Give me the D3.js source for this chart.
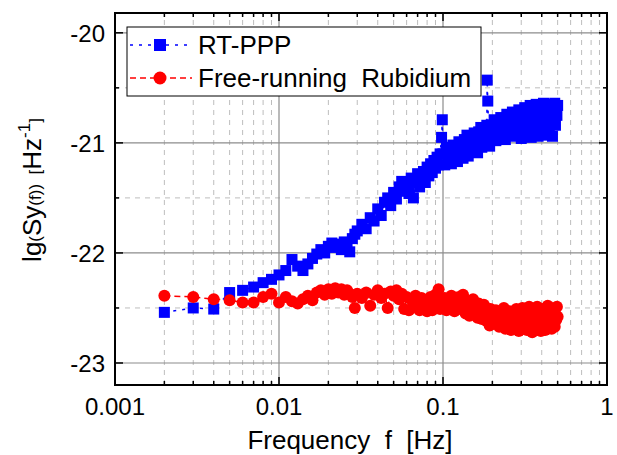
<!DOCTYPE html>
<html>
<head>
<meta charset="utf-8">
<script src="https://cdn.jsdelivr.net/npm/d3@7"></script>
<style>
  body { margin: 0; background: #fff; }
  text { font-family: "Liberation Sans", Arial, sans-serif; fill: #000; }
</style>
</head>
<body>
<div id="chart"></div>
<script>
var W = 617, H = 455;
var margins = { top: 13, right: 10, bottom: 70, left: 115 };

// frequency grid shared by both series [Hz]
var freq = [
  0.002,0.003,0.004,0.005,0.006,0.007,0.008,0.009,0.010,0.011,0.012,0.013,0.014,0.015,0.016,0.017,0.018,0.019,0.020,
  0.021,0.022,0.023,0.024,0.025,0.026,0.027,0.028,0.029,
  0.030,0.032,0.034,0.036,0.038,0.040,0.042,0.044,0.046,0.048,0.050,0.052,0.054,0.056,0.058,0.060,0.062,0.064,0.066,
  0.068,0.070,0.072,0.074,0.076,0.078,0.080,0.082,0.084,0.086,0.088,0.090,0.092,0.094,0.096,0.098,
  0.099,
  0.1000,0.1025,0.1050,0.1075,0.1100,0.1125,0.1150,0.1175,0.1200,0.1225,0.1250,0.1275,0.1300,0.1325,0.1350,0.1375,
  0.1400,0.1425,0.1450,0.1475,0.1500,0.1525,0.1550,0.1575,0.1600,0.1625,0.1650,0.1675,0.1700,0.1725,0.1750,0.1775,
  0.1800,0.1825,0.1850,
  0.186,
  0.1875,0.1900,0.1925,0.1950,0.1975,0.2000,
  0.205,0.210,0.215,0.220,0.225,0.230,0.235,0.240,0.245,0.250,0.255,0.260,0.265,0.270,0.275,0.280,0.285,0.290,0.295,0.300,
  0.305,0.310,0.315,0.320,0.325,0.330,0.335,0.340,0.345,0.350,0.355,0.360,0.365,0.370,0.375,0.380,0.385,0.390,0.395,0.400,
  0.405,0.410,0.415,0.420,0.425,0.430,0.435,0.440,0.445,0.450,0.455,0.460,0.465,0.470,0.475,0.480,0.485,0.490,0.495,0.500];

// RT-PPP, lg(Sy(f))
var lgSyRT = [
  -22.54,-22.50,-22.51,-22.36,-22.34,-22.31,-22.27,-22.24,-22.20,-22.16,-22.06,-22.12,-22.16,-22.10,-22.05,-22.01,-21.97,-22.00,-21.94,
  -21.91,-21.95,-21.92,-21.97,-21.90,-21.96,-21.99,-21.87,-21.83,
  -21.80,-21.74,-21.78,-21.68,-21.71,-21.60,-21.66,-21.54,-21.50,-21.57,-21.45,-21.51,-21.40,-21.35,-21.44,-21.38,-21.46,-21.32,-21.50,
  -21.36,-21.28,-21.40,-21.31,-21.26,-21.36,-21.22,-21.30,-21.19,-21.27,-21.16,-21.23,-21.13,-21.20,-21.10,-20.95,
  -20.79,
  -21.10,-21.20,-21.04,-21.15,-21.08,-21.19,-21.02,-21.12,-21.06,-21.17,-20.99,-21.10,-21.04,-21.14,-20.97,-21.08,
  -20.93,-21.12,-21.01,-20.95,-21.08,-20.98,-20.91,-21.05,-20.97,-21.09,-20.90,-21.00,-20.86,-21.04,-20.94,-20.88,
  -21.02,-20.95,-20.84,
  -20.43,
  -20.62,-20.90,-21.03,-20.84,-20.96,-20.88,
  -20.79,-20.98,-20.86,-20.93,-20.77,-20.90,-20.83,-20.97,-20.74,-20.87,-20.80,-20.94,-20.72,-20.84,-20.90,-20.76,-20.86,-20.70,-20.82,-20.96,
  -20.74,-20.85,-20.68,-20.79,-20.89,-20.72,-20.83,-20.66,-20.95,-20.77,-20.70,-20.86,-20.74,-20.65,-20.82,-20.94,-20.71,-20.80,-20.67,-20.86,
  -20.75,-20.64,-20.83,-20.72,-20.93,-20.68,-20.79,-20.65,-20.85,-20.73,-20.66,-20.81,-20.94,-20.70,-20.77,-20.64,-20.84,-20.68,-20.75,-20.66];

// Free-running Rubidium, lg(Sy(f))
var lgSyRb = [
  -22.39,-22.40,-22.42,-22.43,-22.45,-22.45,-22.40,-22.37,-22.45,-22.40,-22.44,-22.46,-22.42,-22.39,-22.43,-22.36,-22.34,-22.38,-22.33,
  -22.37,-22.32,-22.36,-22.33,-22.38,-22.34,-22.37,-22.40,-22.50,
  -22.37,-22.41,-22.36,-22.48,-22.38,-22.34,-22.41,-22.37,-22.50,-22.35,-22.39,-22.34,-22.42,-22.37,-22.51,-22.40,-22.52,-22.42,-22.46,
  -22.39,-22.44,-22.52,-22.41,-22.46,-22.43,-22.53,-22.44,-22.40,-22.52,-22.42,-22.38,-22.45,-22.33,-22.51,-22.44,
  -22.46,
  -22.47,-22.41,-22.52,-22.44,-22.49,-22.39,-22.46,-22.53,-22.42,-22.48,-22.40,-22.51,-22.45,-22.38,-22.49,-22.55,
  -22.44,-22.50,-22.57,-22.46,-22.53,-22.42,-22.56,-22.48,-22.52,-22.59,-22.46,-22.54,-22.49,-22.60,-22.52,-22.47,
  -22.57,-22.50,-22.62,
  -22.55,
  -22.53,-22.58,-22.66,-22.51,-22.60,-22.55,
  -22.63,-22.52,-22.58,-22.67,-22.55,-22.61,-22.50,-22.69,-22.57,-22.64,-22.53,-22.70,-22.60,-22.55,-22.66,-22.51,-22.62,-22.71,-22.57,-22.65,
  -22.50,-22.68,-22.59,-22.54,-22.70,-22.62,-22.49,-22.66,-22.57,-22.72,-22.61,-22.53,-22.67,-22.58,-22.49,-22.69,-22.62,-22.55,-22.71,-22.59,
  -22.51,-22.66,-22.60,-22.70,-22.54,-22.63,-22.48,-22.68,-22.57,-22.62,-22.50,-22.69,-22.58,-22.64,-22.52,-22.67,-22.56,-22.61,-22.49,-22.58];

var xMajor = [0.001, 0.01, 0.1, 1];
var xTickLabels = ["0.001", "0.01", "0.1", "1"];
var yMajor = [-23, -22, -21, -20];
var yMinor = [-22.5, -21.5, -20.5];
var legendLabels = ["RT-PPP", "Free-running  Rubidium"];

var BLUE = "#0000ff", RED = "#ff0000";

var x = d3.scaleLog().domain([0.001, 1]).range([margins.left, W - margins.right]);
var y = d3.scaleLinear().domain([-23.2, -19.82]).range([H - margins.bottom, margins.top]);

var xMinor = [];
[0.001, 0.01, 0.1].forEach(function(d) { for (var k = 2; k <= 9; k++) xMinor.push(d * k); });

var svg = d3.select("#chart").append("svg").attr("width", W).attr("height", H);

var x0 = x.range()[0], x1 = x.range()[1], y0 = y.range()[0], y1 = y.range()[1];

// grid
var grid = svg.append("g");
grid.selectAll(".gx-minor").data(xMinor).join("line")
  .attr("x1", d => x(d)).attr("x2", d => x(d)).attr("y1", y0).attr("y2", y1)
  .attr("stroke", "#bdbdbd").attr("stroke-width", 1).attr("stroke-dasharray", "5,5");
grid.selectAll(".gy-minor").data(yMinor).join("line")
  .attr("x1", x0).attr("x2", x1).attr("y1", d => y(d)).attr("y2", d => y(d))
  .attr("stroke", "#bdbdbd").attr("stroke-width", 1).attr("stroke-dasharray", "5,5");
grid.selectAll(".gx-major").data([0.01, 0.1]).join("line")
  .attr("x1", d => x(d)).attr("x2", d => x(d)).attr("y1", y0).attr("y2", y1)
  .attr("stroke", "#8c8c8c").attr("stroke-width", 1.2);
grid.selectAll(".gy-major").data(yMajor).join("line")
  .attr("x1", x0).attr("x2", x1).attr("y1", d => y(d)).attr("y2", d => y(d))
  .attr("stroke", "#8c8c8c").attr("stroke-width", 1.2);

// series
var rt = freq.map((f, i) => [f, lgSyRT[i]]);
var rb = freq.map((f, i) => [f, lgSyRb[i]]);
var line = d3.line().x(d => x(d[0])).y(d => y(d[1]));

svg.append("path").datum(rt).attr("d", line)
  .attr("fill", "none").attr("stroke", BLUE).attr("stroke-width", 1.5).attr("stroke-dasharray", "3,6");
svg.selectAll(".sq").data(rt).join("rect")
  .attr("x", d => x(d[0]) - 5.5).attr("y", d => y(d[1]) - 5.5)
  .attr("width", 11).attr("height", 11).attr("fill", BLUE);

svg.append("path").datum(rb).attr("d", line)
  .attr("fill", "none").attr("stroke", RED).attr("stroke-width", 1.5).attr("stroke-dasharray", "6,4");
svg.selectAll(".ci").data(rb).join("circle")
  .attr("cx", d => x(d[0])).attr("cy", d => y(d[1])).attr("r", 6).attr("fill", RED);

// frame
svg.append("rect").attr("x", x0).attr("y", y1).attr("width", x1 - x0).attr("height", y0 - y1)
  .attr("fill", "none").attr("stroke", "#000").attr("stroke-width", 2);

// ticks, inward on all sides
var ticks = svg.append("g").attr("stroke", "#000").attr("stroke-width", 1.5);
function xTicks(data, len) {
  ticks.selectAll(null).data(data).join("line")
    .attr("x1", d => x(d)).attr("x2", d => x(d)).attr("y1", y0).attr("y2", y0 - len);
  ticks.selectAll(null).data(data).join("line")
    .attr("x1", d => x(d)).attr("x2", d => x(d)).attr("y1", y1).attr("y2", y1 + len);
}
function yTicks(data, len) {
  ticks.selectAll(null).data(data).join("line")
    .attr("x1", x0).attr("x2", x0 + len).attr("y1", d => y(d)).attr("y2", d => y(d));
  ticks.selectAll(null).data(data).join("line")
    .attr("x1", x1).attr("x2", x1 - len).attr("y1", d => y(d)).attr("y2", d => y(d));
}
xTicks(xMajor, 8); xTicks(xMinor, 4);
yTicks(yMajor, 8); yTicks(yMinor, 4);

// tick labels
svg.selectAll(".xl").data(xMajor).join("text")
  .attr("x", d => x(d)).attr("y", y0 + 30).attr("text-anchor", "middle")
  .style("font-size", "24px").text((d, i) => xTickLabels[i]);
svg.selectAll(".yl").data(yMajor).join("text")
  .attr("x", x0 - 10).attr("y", d => y(d) + 9).attr("text-anchor", "end")
  .style("font-size", "24px").text(d => d);

// axis titles
svg.append("text").attr("x", (x0 + x1) / 2 - 11).attr("y", 449).attr("text-anchor", "middle")
  .style("font-size", "26px").attr("xml:space", "preserve").text("Frequency  f  [Hz]");

var yt = svg.append("text").attr("transform", "translate(41,190) rotate(-90)")
  .attr("text-anchor", "middle").attr("xml:space", "preserve").style("font-size", "26px");
yt.append("tspan").text("lg");
yt.append("tspan").style("font-size", "17px").text("(");
yt.append("tspan").text("Sy");
yt.append("tspan").style("font-size", "17px").text("(f))  [");
yt.append("tspan").text("Hz");
yt.append("tspan").style("font-size", "17px").attr("dy", -11).text("-1");
yt.append("tspan").style("font-size", "17px").attr("dy", 11).text("]");

// legend
var lg = svg.append("g");
lg.append("rect").attr("x", 127).attr("y", 27).attr("width", 354).attr("height", 69)
  .attr("fill", "#fff").attr("stroke", "#000").attr("stroke-width", 1);
var rows = [
  { label: legendLabels[0], color: BLUE, dash: "3,6", shape: "square", cy: 45 },
  { label: legendLabels[1], color: RED, dash: "6,4", shape: "circle", cy: 78 }
];
rows.forEach(function(r) {
  lg.append("line").attr("x1", 130).attr("x2", 192).attr("y1", r.cy).attr("y2", r.cy)
    .attr("stroke", r.color).attr("stroke-width", 1.5).attr("stroke-dasharray", r.dash);
  if (r.shape == "square") {
    lg.append("rect").attr("x", 154).attr("y", r.cy - 6).attr("width", 12).attr("height", 12).attr("fill", r.color);
  } else {
    lg.append("circle").attr("cx", 160).attr("cy", r.cy).attr("r", 6.5).attr("fill", r.color);
  }
  lg.append("text").attr("x", 198).attr("y", r.cy + 9).attr("xml:space", "preserve")
    .style("font-size", "26px").text(r.label);
});
</script>
</body>
</html>
